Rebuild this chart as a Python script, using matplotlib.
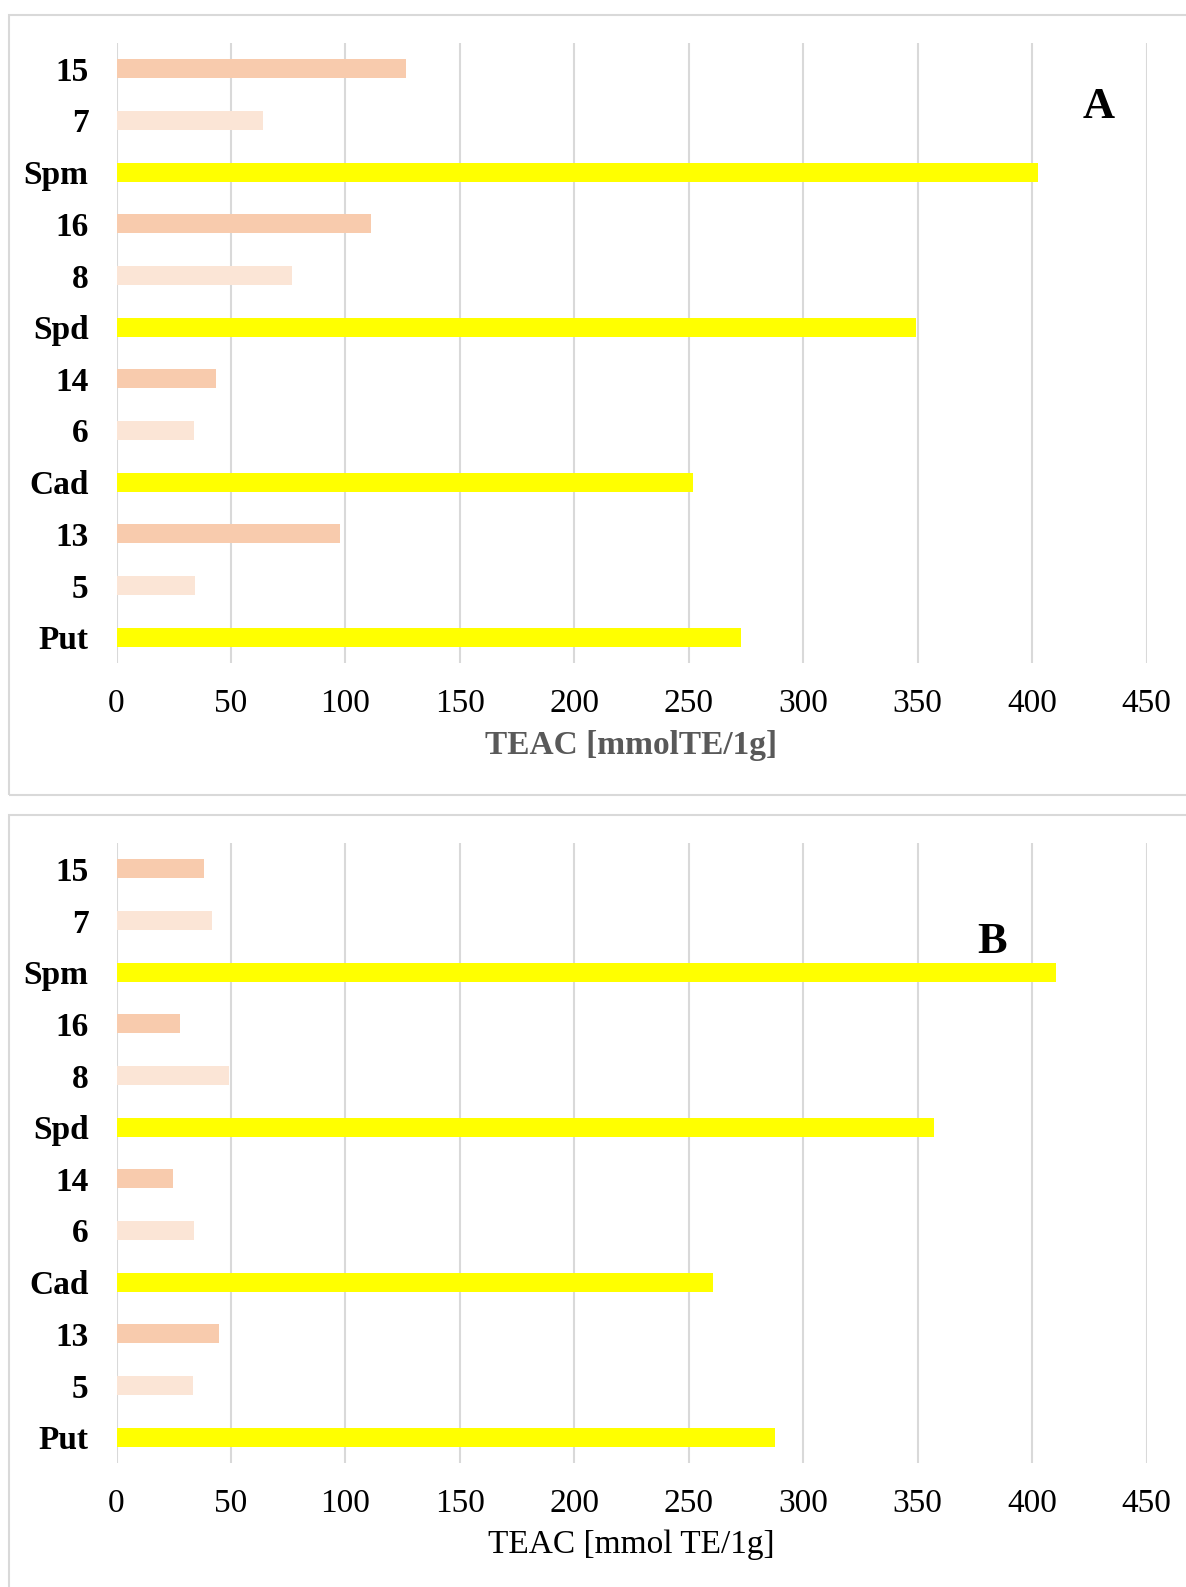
import matplotlib.pyplot as plt
from matplotlib.patches import Rectangle

plt.rcParams['font.family'] = ['Liberation Serif', 'DejaVu Serif']

# categories from bottom to top
categories = ['Put', '5', '13', 'Cad', '6', '14', 'Spd', '8', '16', 'Spm', '7', '15']
teac_a = [272.8, 34.3, 97.5, 252.0, 33.8, 43.4, 349.2, 76.6, 111.1, 402.7, 63.9, 126.4]
teac_b = [287.7, 33.4, 44.7, 260.4, 33.8, 24.7, 357.2, 49.3, 27.7, 410.4, 41.7, 38.2]
xticks = [0, 50, 100, 150, 200, 250, 300, 350, 400, 450]

YELLOW = '#FFFF00'
LIGHT = '#FBE5D6'
DARK = '#F8CBAD'
group_colors = {'Put': YELLOW, 'Cad': YELLOW, 'Spd': YELLOW, 'Spm': YELLOW,
                '5': LIGHT, '6': LIGHT, '7': LIGHT, '8': LIGHT,
                '13': DARK, '14': DARK, '15': DARK, '16': DARK}
colors = [group_colors[c] for c in categories]

W, H = 1186, 1587
fig = plt.figure(figsize=(W / 100, H / 100), dpi=100)


def px_box(left, top, right, bottom):
    return [left / W, 1 - bottom / H, (right - left) / W, (bottom - top) / H]


def panel(top, bottom, values, xlabel, label_weight, label_color, letter, lx, ly):
    # panel frame (runs off the right side of the figure)
    fig.patches.append(Rectangle((9 / W, 1 - bottom / H), 1.2, (bottom - top) / H,
                                 transform=fig.transFigure, fill=False,
                                 edgecolor='#D9D9D9', linewidth=1.5))
    ax = fig.add_axes(px_box(116.5, top + 28, 1146.5, top + 648))
    ax.barh(range(len(categories)), values, height=0.37, color=colors, zorder=3)
    ax.set_xlim(0, 450)
    ax.set_ylim(-0.5, len(categories) - 0.5)
    ax.set_xticks(xticks)
    ax.set_yticks(range(len(categories)))
    ax.set_yticklabels(categories, fontweight='bold')
    ax.tick_params(axis='both', length=0, labelsize=24)
    ax.tick_params(axis='y', pad=20)
    ax.tick_params(axis='x', pad=18)
    ax.grid(axis='x', color='#D9D9D9', linewidth=1.5, zorder=0)
    for s in ax.spines.values():
        s.set_visible(False)
    ax.set_xlabel(xlabel, fontsize=24, fontweight=label_weight, color=label_color, labelpad=8)
    ax.text(lx, ly, letter, transform=ax.transAxes, fontsize=32, fontweight='bold',
            ha='center', va='center')
    return ax


panel(15, 795, teac_a, 'TEAC [mmolTE/1g]', 'bold', '#595959', 'A', 0.954, 0.897)
panel(815, 1620, teac_b, 'TEAC [mmol TE/1g]', 'normal', 'black', 'B', 0.850, 0.840)

fig.savefig('out.png', dpi=100)
